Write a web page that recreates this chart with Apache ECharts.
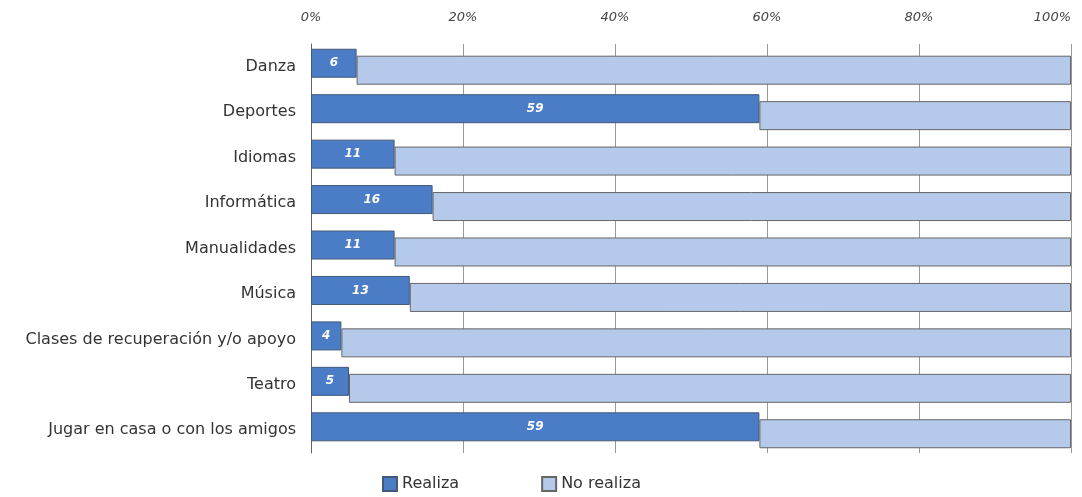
<!DOCTYPE html>
<html>
<head>
<meta charset="utf-8">
<script src="https://cdn.jsdelivr.net/npm/echarts@6/dist/echarts.min.js"></script>
<style>
html,body{margin:0;padding:0;background:#fff;}
#c{width:1082px;height:497px;}
</style>
</head>
<body>
<div id="c"></div>
<script>
const categories = ["Danza","Deportes","Idiomas","Informática","Manualidades","Música","Clases de recuperación y/o apoyo","Teatro","Jugar en casa o con los amigos"];
const realiza = [6, 59, 11, 16, 11, 13, 4, 5, 59];
const total = 100;
const seriesNames = ["Realiza", "No realiza"];

const noRealiza = realiza.map(v => total - v);

const chart = echarts.init(document.getElementById('c'), null, {renderer: 'canvas'});
chart.setOption({
  animation: false,
  backgroundColor: '#ffffff',
  textStyle: {fontFamily: 'DejaVu Sans'},
  grid: {left: 311, right: 11, top: 44, height: 409, containLabel: false, outerBoundsMode: 'none'},
  legend: {
    data: seriesNames,
    bottom: 0,
    left: 377,
    itemWidth: 14,
    itemHeight: 14,
    itemGap: 82,
    textStyle: {fontSize: 16, color: '#333', fontFamily: 'DejaVu Sans'},
    icon: 'rect'
  },
  xAxis: {
    type: 'value',
    position: 'top',
    min: 0, max: 100, interval: 20,
    axisLine: {show: false},
    axisTick: {show: false},
    axisLabel: {formatter: '{value}%', color: '#444', fontSize: 13, margin: 20, fontStyle: 'italic', alignMaxLabel: 'right'},
    splitLine: {show: true, lineStyle: {color: '#999', width: 1}}
  },
  yAxis: {
    type: 'category',
    data: categories,
    inverse: true,
    axisLine: {show: true, lineStyle: {color: '#666', width: 1}},
    axisTick: {show: false},
    axisLabel: {color: '#333', fontSize: 16, margin: 15}
  },
  series: [
    {
      name: 'Realiza',
      type: 'bar',
      stack: 'a',
      data: realiza,
      barWidth: 29,
      barGap: '-76%',
      itemStyle: {color: '#4b7cc6', borderColor: '#44597a', borderWidth: 1},
      label: {show: true, position: 'inside', color: '#fff', fontSize: 12, fontStyle: 'italic', fontWeight: 'bold'},
      z: 3
    },
    {
      name: '_base',
      type: 'bar',
      stack: 'b',
      data: realiza,
      barWidth: 29,
      itemStyle: {color: 'rgba(0,0,0,0)'},
      silent: true,
      z: 2
    },
    {
      name: 'No realiza',
      type: 'bar',
      stack: 'b',
      data: noRealiza,
      barWidth: 29,
      itemStyle: {color: '#b5c9ea', borderColor: '#666', borderWidth: 1},
      z: 2
    }
  ]
});
</script>
</body>
</html>
